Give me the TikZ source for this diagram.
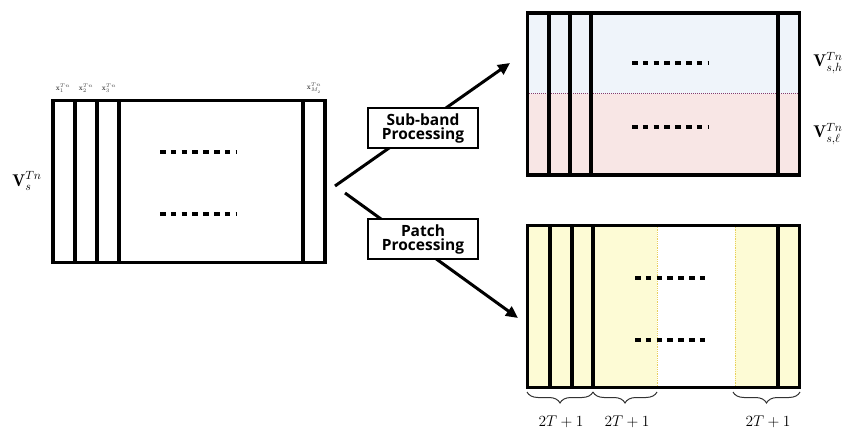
\RequirePackage{fix-cm}
\documentclass[tikz,border=0pt]{standalone}
\usepackage{fontspec}
\newfontfamily\boxfont{Open Sans}
\usetikzlibrary{arrows.meta,decorations.pathreplacing}
\definecolor{highband}{HTML}{EFF4FA}
\definecolor{lowband}{HTML}{F8E6E5}
\definecolor{patchfill}{HTML}{FDFBD5}
\definecolor{patchedge}{HTML}{E8CF5A}
\definecolor{bandedge}{HTML}{8A3A6A}

\begin{document}
\begin{tikzpicture}
  [x=1pt, y=-1pt,
  matbox/.style ={rectangle, draw=black, line width=3.2pt, minimum width=272, minimum height=162, inner sep=0pt},
  colline/.style ={draw=black, line width=3.2pt},
  dots/.style ={draw=black, line width=3.8pt, dash pattern=on 5.5pt off 5.3pt},
  procbox/.style ={rectangle, draw=black, line width=1.2pt, fill=white, align=center, inner sep=3pt, minimum width=110, minimum height=40, font=\boxfont\bfseries\fontsize{15.5}{17}\selectfont},
  line/.style ={draw, line width=3pt, -{Triangle[length=12pt,width=11pt]}},
  collabel/.style ={font=\fontsize{7.5}{8}\selectfont, text=black!75, inner sep=0pt},
  veclabel/.style ={font=\fontsize{17}{19}\selectfont, inner sep=0pt},
  widthlabel/.style ={font=\fontsize{15.5}{17}\selectfont, inner sep=0pt},
  brace/.style ={draw=black!80, line width=1pt, decorate, decoration={brace, mirror, amplitude=11pt}}]
  \useasboundingbox (0,0) rectangle (854,438);

  % input matrix
  \node [matbox] (input) at (189,181.5) {};
  \foreach \cx in {75,97,119,303}
    \draw [colline] (\cx,100) -- (\cx,263);
  \draw [dots] (160,152) -- (237,152);
  \draw [dots] (160,214) -- (237,214);
  \node [veclabel] (inlabel) at (27,181) {$\mathbf{V}_s^{Tn}$};
  \node [collabel] (xone) at (63,88) {$\mathbf{x}_1^{Tn}$};
  \node [collabel] (xtwo) at (86,88) {$\mathbf{x}_2^{Tn}$};
  \node [collabel] (xthree) at (109,88) {$\mathbf{x}_3^{Tn}$};
  \node [collabel] (xlast) at (314,88) {$\mathbf{x}_{M_2}^{Tn}$};

  % sub-band output
  \fill [highband] (527,13) rectangle (800,94);
  \fill [lowband] (527,94) rectangle (800,175);
  \draw [bandedge, densely dotted, line width=1pt] (527,94) -- (800,94);
  \node [matbox] (subband) at (663.5,94) {};
  \foreach \cx in {549,570,591,778}
    \draw [colline] (\cx,13) -- (\cx,175);
  \draw [dots] (632,63) -- (708,63);
  \draw [dots] (632,127) -- (708,127);
  \node [veclabel] (highlabel) at (828,63) {$\mathbf{V}_{s,h}^{Tn}$};
  \node [veclabel] (lowlabel) at (828,134) {$\mathbf{V}_{s,\ell}^{Tn}$};

  % patch output
  \fill [patchfill] (527,225) rectangle (657,388);
  \fill [patchfill] (735,225) rectangle (800,388);
  \draw [patchedge, densely dotted, thick] (657,225) -- (657,388);
  \draw [patchedge, densely dotted, thick] (735,225) -- (735,388);
  \node [matbox] (patch) at (663.5,306.5) {};
  \foreach \cx in {550,572,593,778}
    \draw [colline] (\cx,225) -- (\cx,388);
  \draw [dots] (635,278) -- (710,278);
  \draw [dots] (635,340) -- (710,340);

  \coordinate (pone) at (527,392);
  \coordinate (ptwo) at (593,392);
  \coordinate (pthree) at (657,392);
  \coordinate (pfour) at (733,392);
  \coordinate (pfive) at (800,392);
  \draw [brace] (pone) -- (ptwo);
  \draw [brace] (ptwo) -- (pthree);
  \draw [brace] (pfour) -- (pfive);
  \node [widthlabel] (wone) at (561,422) {$2T+1$};
  \node [widthlabel] (wtwo) at (627,422) {$2T+1$};
  \node [widthlabel] (wthree) at (768,422) {$2T+1$};

  % processing arrows
  \coordinate (split) at (335,186);
  \coordinate (splitlow) at (345,193);
  \coordinate (uptip) at (510,63);
  \coordinate (lowtip) at (518,318);
  \begin{scope}[every path/.style=line]
    \path (split) -- (uptip);
    \path (splitlow) -- (lowtip);
  \end{scope}
  \node [procbox] (subproc) at (423,128) {Sub-band\\[-3pt]Processing};
  \node [procbox] (patchproc) at (423,239) {Patch\\[-3pt]Processing};
\end{tikzpicture}
\end{document}
